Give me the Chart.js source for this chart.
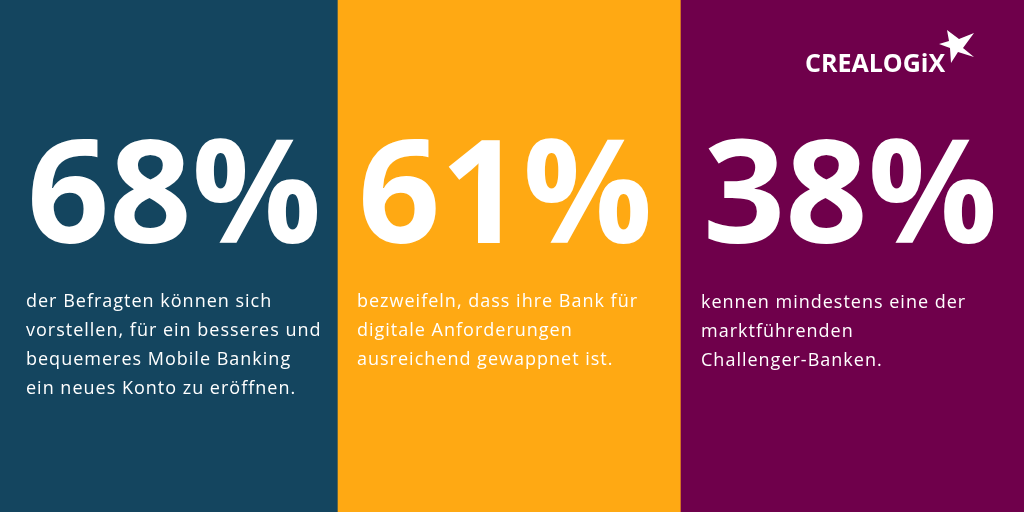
<!DOCTYPE html>
<html lang="de">
<head>
<meta charset="utf-8">
<title>CREALOGIX Umfrage</title>
<script src="https://cdn.jsdelivr.net/npm/chart.js@4/dist/chart.umd.min.js"></script>
<style>
    html, body { margin: 0; padding: 0; width: 1024px; height: 512px; overflow: hidden; background: #6f004b; }
    #wrap { position: absolute; left: -5px; top: 0; width: 1029px; height: 512px; }
</style>
</head>
<body>
<div id="wrap"><canvas id="chart" width="1029" height="512"></canvas></div>
<script>
const categories = ['Befragte', 'Bank', 'Challenger'];
const percentLabels = ['68%', '61%', '38%'];
const panelValues = [100, 100, 100];
const panelColors = ['#14455f', '#ffa913', '#6f004b'];
const captions = [
    ['der Befragten können sich', 'vorstellen, für ein besseres und', 'bequemeres Mobile Banking', 'ein neues Konto zu eröffnen.'],
    ['bezweifeln, dass ihre Bank für', 'digitale Anforderungen', 'ausreichend gewappnet ist.'],
    ['kennen mindestens eine der', 'marktführenden', 'Challenger-Banken.']
];
const logoText = 'CREALOGiX';

// offsets from the left edge of each panel
const bigX = [32, 20, 22];
const bigBaseline = 243;
const capX = [31, 19, 20];
const capBaseline = [307, 307, 308];
const capLeading = 29;

const textPlugin = {
    id: 'panelText',
    afterDatasetsDraw(chart) {
        const ctx = chart.ctx;
        const x = chart.scales.x;
        const half = (x.getPixelForValue(1) - x.getPixelForValue(0)) / 2;
        ctx.save();
        ctx.fillStyle = '#ffffff';
        ctx.textAlign = 'left';
        ctx.textBaseline = 'alphabetic';

        percentLabels.forEach((label, i) => {
            const left = x.getPixelForValue(i) - half;
            ctx.font = "700 144px 'Open Sans'";
            ctx.letterSpacing = '0px';
            ctx.fillText(label, left + bigX[i], bigBaseline);

            ctx.font = "400 18px 'Open Sans'";
            ctx.letterSpacing = '1px';
            captions[i].forEach((line, n) => {
                ctx.fillText(line, left + capX[i], capBaseline[i] + n * capLeading);
            });
        });

        // logo, wordmark and star
        const ox = 5;
        ctx.font = "700 25px 'Open Sans'";
        ctx.letterSpacing = '0px';
        ctx.fillText(logoText, ox + 805, 72);
        const star = [[947, 30], [959, 39], [974, 33], [963, 48], [974, 57], [958, 52], [951, 63], [950, 48], [939, 44], [949, 41]];
        ctx.beginPath();
        star.forEach((p, i) => i ? ctx.lineTo(ox + p[0], p[1]) : ctx.moveTo(ox + p[0], p[1]));
        ctx.closePath();
        ctx.fill();
        ctx.restore();
    }
};

new Chart(document.getElementById('chart'), {
    type: 'bar',
    data: {
        labels: categories,
        datasets: [{
            data: panelValues,
            backgroundColor: panelColors,
            borderWidth: 0,
            barPercentage: 1,
            categoryPercentage: 1
        }]
    },
    options: {
        responsive: false,
        animation: false,
        layout: { padding: 0 },
        plugins: { legend: { display: false }, tooltip: { enabled: false } },
        scales: {
            x: { display: false, grid: { display: false } },
            y: { display: false, min: 0, max: 100, grid: { display: false } }
        }
    },
    plugins: [textPlugin]
});
</script>
</body>
</html>
